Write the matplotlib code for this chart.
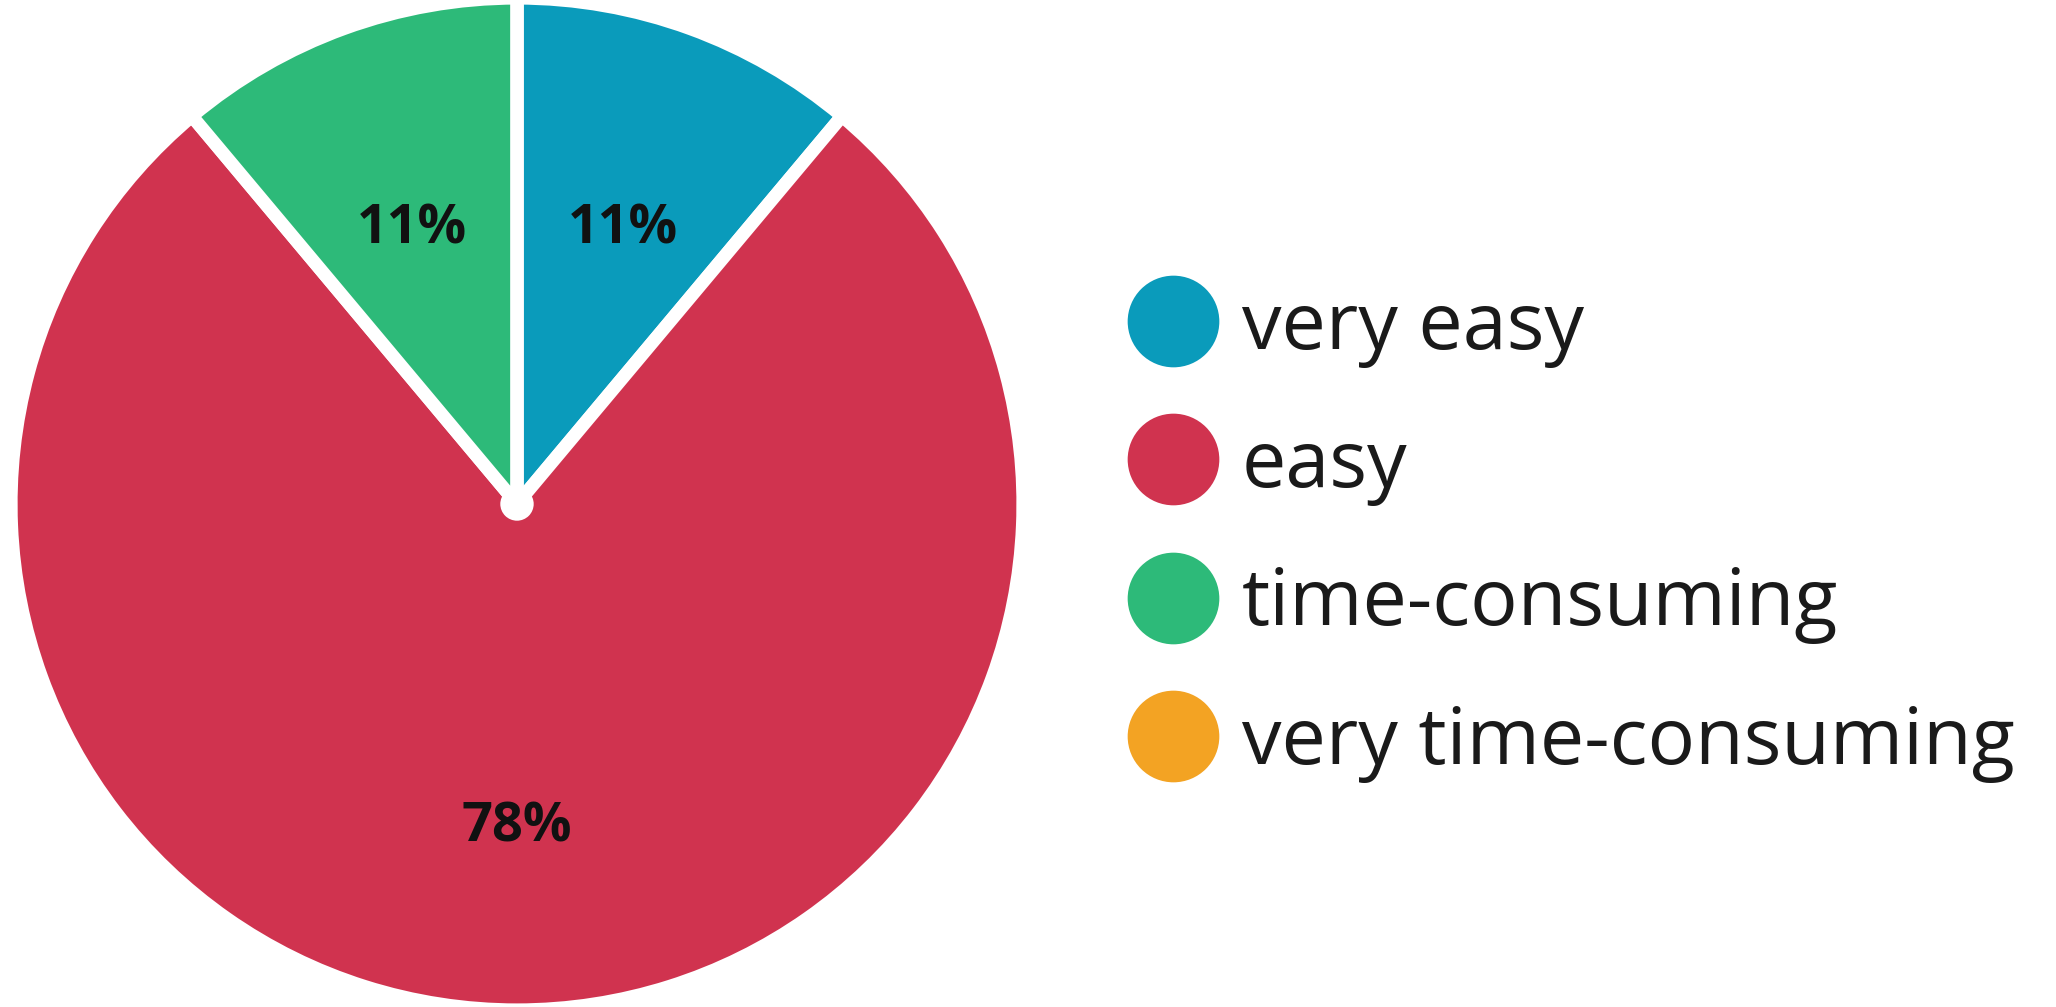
import matplotlib.pyplot as plt
from matplotlib.lines import Line2D
from matplotlib.patches import Circle

# answers to "how easy was it?"
categories = ["very easy", "easy", "time-consuming", "very time-consuming"]
shares = [11.1, 77.8, 11.1, 0.0]
colors = ["#0a9bbb", "#d0334f", "#2dba79", "#f3a323"]

plt.rcParams['font.family'] = ['Open Sans', 'DejaVu Sans']

fig = plt.figure(figsize=(20.56, 10.07), dpi=100)
ax = fig.add_axes([11 / 2056, -3 / 1007, 1012 / 2056, 1012 / 1007])


def pct_label(p):
    return "" if p < 0.5 else "{:.0f}%".format(p)


wedges, texts, autotexts = ax.pie(
    shares, colors=colors, startangle=90, counterclock=False,
    autopct=pct_label, pctdistance=0.61,
    wedgeprops=dict(edgecolor="white", linewidth=9.5, joinstyle="round"),
    textprops=dict(fontsize=39, fontweight="bold", color="#111111"),
)
# labels sit a touch lower in the original
for t in autotexts:
    x, y = t.get_position()
    t.set_position((x, y - 0.03))

# white hub where the separators meet
ax.add_patch(Circle((0, 0), 0.033, facecolor="white", edgecolor="none", zorder=5))
ax.set_xlim(-1.0, 1.0)
ax.set_ylim(-1.0, 1.0)
ax.set_aspect("equal")

handles = [Line2D([], [], marker="o", ls="", markersize=66,
                  markerfacecolor=c, markeredgecolor="none") for c in colors]
fig.legend(handles, categories, loc="center left",
           bbox_to_anchor=(1127 / 2056, 0.468), frameon=False,
           fontsize=57, handlelength=1.15, handletextpad=0.3,
           labelspacing=0.75, borderpad=0, borderaxespad=0,
           labelcolor="#1a1a1a")

fig.savefig("out.png", dpi=100, facecolor="white")
